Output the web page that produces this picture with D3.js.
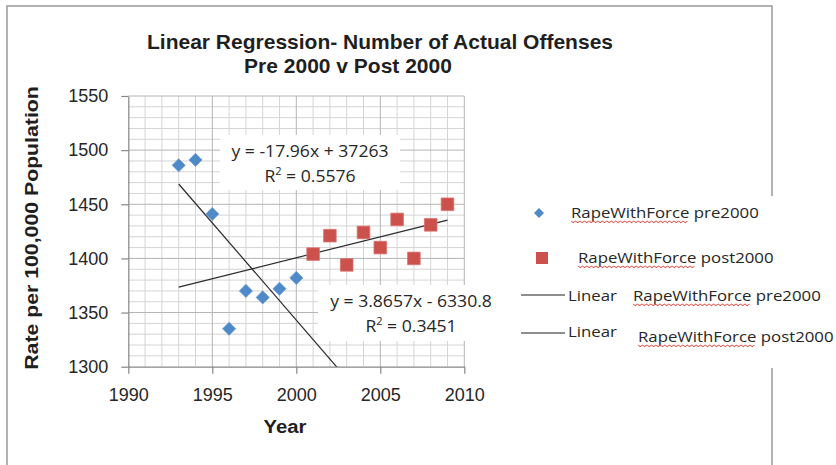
<!DOCTYPE html>
<html>
<head>
<meta charset="utf-8">
<script src="https://cdn.jsdelivr.net/npm/d3@7"></script>
<style>
  html, body { margin: 0; padding: 0; background: #ffffff; }
  svg { display: block; }
</style>
</head>
<body>
<svg id="chart" width="836" height="465"></svg>
<script>
// ---------------- DATA ----------------
const preYears   = [1993, 1994, 1995, 1996, 1997, 1998, 1999, 2000];
const preValues  = [1486, 1491, 1441, 1335, 1370, 1364, 1372, 1382];
const postYears  = [2001, 2002, 2003, 2004, 2005, 2006, 2007, 2008, 2009];
const postValues = [1404, 1421, 1394, 1424, 1410, 1436, 1400, 1431, 1450];

// trendline coefficients [slope, intercept] as printed on the chart
const preFitCoef  = [-17.96, 37263];
const postFitCoef = [3.8657, -6330.8];
// trendline year spans (with Excel forecast)
const preFitRange  = [1993, 2002.5];
const postFitRange = [1993, 2009];

const preEquation  = ["y = -17.96x + 37263", "R² = 0.5576"];
const postEquation = ["y = 3.8657x - 6330.8", "R² = 0.3451"];

const xTicks = [1990, 1995, 2000, 2005, 2010];
const yTicks = [1300, 1350, 1400, 1450, 1500, 1550];
const xMinorStep = 1;
const yMinorStep = 10;

const titleLines = ["Linear Regression- Number of Actual Offenses", "Pre 2000 v Post 2000"];
const xTitle = "Year";
const yTitle = "Rate per 100,000 Population";
const seriesNames = ["RapeWithForce pre2000", "RapeWithForce post2000"];
const trendNames  = ["RapeWithForce pre2000", "RapeWithForce post2000"];

// ---------------- STYLE ----------------
const BLUE = "#4f8ac8", RED = "#cc514c";
const ARIAL = "'Liberation Sans', Arial, sans-serif";
const CAL = "'Open Sans', 'Noto Sans', sans-serif";

const svg = d3.select("#chart");
const x = d3.scaleLinear().domain([1990, 2010]).range([128.3, 464.3]);
const y = d3.scaleLinear().domain([1300, 1550]).range([366.7, 96]);

// outer chart border
svg.append("rect").attr("x", 7).attr("y", 6).attr("width", 765).attr("height", 470)
  .attr("fill", "#fff").attr("stroke", "#9a9a9a").attr("stroke-width", 1.5);

// helper for (horizontally stretched) text
function stretchedText(parent, tx, ty, str, opts) {
  const g = parent.append("g")
    .attr("transform", `translate(${tx},${ty})${opts.rotate ? ` rotate(${opts.rotate})` : ""} scale(${opts.sx || 1},1)`);
  const t = g.append("text").attr("x", 0).attr("y", 0)
    .attr("text-anchor", opts.anchor || "start")
    .attr("font-family", opts.font || ARIAL)
    .attr("font-size", opts.size || 16)
    .attr("font-weight", opts.weight || "normal")
    .attr("fill", opts.fill || "#262626")
    .text(str);
  return { g, t };
}

// ---------------- GRID ----------------
const grid = svg.append("g");
const xMinor = d3.range(1990, 2010 + 0.001, xMinorStep).filter(v => !xTicks.includes(v));
const yMinor = d3.range(1300, 1550 + 0.001, yMinorStep).filter(v => !yTicks.includes(v));
grid.selectAll(".xm").data(xMinor).join("line")
  .attr("x1", d => x(d)).attr("x2", d => x(d)).attr("y1", y(1550)).attr("y2", y(1300))
  .attr("stroke", "#d4d4d4").attr("stroke-width", 1);
grid.selectAll(".ym").data(yMinor).join("line")
  .attr("x1", x(1990)).attr("x2", x(2010)).attr("y1", d => y(d)).attr("y2", d => y(d))
  .attr("stroke", "#d4d4d4").attr("stroke-width", 1);
grid.selectAll(".xM").data(xTicks.slice(1)).join("line")
  .attr("x1", d => x(d)).attr("x2", d => x(d)).attr("y1", y(1550)).attr("y2", y(1300))
  .attr("stroke", "#b4b4b4").attr("stroke-width", 1);
grid.selectAll(".yM").data(yTicks.slice(1)).join("line")
  .attr("x1", x(1990)).attr("x2", x(2010)).attr("y1", d => y(d)).attr("y2", d => y(d))
  .attr("stroke", "#b4b4b4").attr("stroke-width", 1);

// ---------------- AXES ----------------
const xAxis = svg.append("g").attr("transform", `translate(0,${y(1300)})`)
  .call(d3.axisBottom(x).tickValues(xTicks).tickFormat(d3.format("d")).tickSize(7).tickPadding(15).tickSizeOuter(0));
const yAxis = svg.append("g").attr("transform", `translate(${x(1990)},0)`)
  .call(d3.axisLeft(y).tickValues(yTicks).tickFormat(d3.format("d")).tickSize(7).tickPadding(13).tickSizeOuter(0));
[xAxis, yAxis].forEach(a => {
  a.select(".domain").attr("stroke", "#868686").attr("stroke-width", 1.2);
  a.selectAll(".tick line").attr("stroke", "#868686").attr("stroke-width", 1.2);
  a.selectAll(".tick text").attr("font-family", ARIAL).attr("font-size", 18).attr("fill", "#262626");
});

// ---------------- TRENDLINES ----------------
svg.append("clipPath").attr("id", "plotclip").append("rect")
  .attr("x", x(1990)).attr("y", y(1550)).attr("width", x(2010) - x(1990)).attr("height", y(1300) - y(1550));
const line = d3.line().x(d => x(d[0])).y(d => y(d[1]));
const trendG = svg.append("g").attr("clip-path", "url(#plotclip)");
[[preFitCoef, preFitRange], [postFitCoef, postFitRange]].forEach(([c, r]) => {
  trendG.append("path").datum(r.map(v => [v, c[0] * v + c[1]]))
    .attr("d", line).attr("fill", "none").attr("stroke", "#2b2b2b").attr("stroke-width", 1.2);
});

// ---------------- MARKERS ----------------
const diamond = d3.symbol(d3.symbolSquare, 86);
const square = d3.symbol(d3.symbolSquare, 158);
svg.append("g").selectAll("path").data(preYears.map((v, i) => [v, preValues[i]])).join("path")
  .attr("d", diamond).attr("transform", d => `translate(${x(d[0])},${y(d[1])}) rotate(45)`)
  .attr("fill", BLUE).attr("stroke", "#6b9bd4").attr("stroke-width", 0.8);
svg.append("g").selectAll("path").data(postYears.map((v, i) => [v, postValues[i]])).join("path")
  .attr("d", square).attr("transform", d => `translate(${x(d[0])},${y(d[1])})`)
  .attr("fill", RED).attr("stroke", "#d9706c").attr("stroke-width", 0.8);

// ---------------- EQUATION LABELS ----------------
function eqLabel(bx, by, bw, bh, cx, lines) {
  svg.append("rect").attr("x", bx).attr("y", by).attr("width", bw).attr("height", bh).attr("fill", "#fff");
  stretchedText(svg, cx, by + 22, lines[0], { anchor: "middle", font: CAL, size: 16, sx: 1.1, fill: "#262626" });
  const r = stretchedText(svg, cx, by + 47, "", { anchor: "middle", font: CAL, size: 16, sx: 1.1, fill: "#262626" });
  const parts = lines[1].split("²");
  r.t.append("tspan").text(parts[0]);
  r.t.append("tspan").attr("font-size", 10).attr("dy", -7).text("2");
  r.t.append("tspan").attr("dy", 7).text(parts[1]);
}
eqLabel(220, 135, 180, 55, 310, preEquation);
eqLabel(318, 285, 182, 56, 411, postEquation);

// ---------------- TITLES ----------------
stretchedText(svg, 380, 49, titleLines[0], { anchor: "middle", size: 21, weight: "bold", fill: "#1f1f1f" });
stretchedText(svg, 348, 73, titleLines[1], { anchor: "middle", size: 21, weight: "bold", fill: "#1f1f1f" });
stretchedText(svg, 285, 433, xTitle, { anchor: "middle", size: 19, weight: "bold", sx: 1.07, fill: "#1f1f1f" });
stretchedText(svg, 38, 228, yTitle, { anchor: "middle", size: 19, weight: "bold", sx: 1.12, rotate: -90, fill: "#1f1f1f" });

// ---------------- LEGEND ----------------
const leg = svg.append("g");
leg.append("rect").attr("x", 515).attr("y", 196).attr("width", 321).attr("height", 172).attr("fill", "#fff");

function legendLabel(tx, ty, name, sx) {
  const [word, rest] = [name.split(" ")[0], " " + name.split(" ").slice(1).join(" ")];
  const r = stretchedText(leg, tx, ty, "", { font: CAL, size: 15, sx: sx, fill: "#262626" });
  const w1 = r.t.append("tspan").text(word);
  r.t.append("tspan").text(rest);
  const ww = w1.node().getComputedTextLength();
  // spell-check style wavy underline
  const pts = d3.range(0, ww + 0.01, 2).map((v, i) => [v, 3 + (i % 2 ? 1.6 : 0)]);
  r.g.append("path").attr("d", d3.line()(pts)).attr("fill", "none").attr("stroke", "#e0554f").attr("stroke-width", 0.9);
}
leg.append("path").attr("d", d3.symbol(d3.symbolSquare, 50)).attr("transform", "translate(539,213) rotate(45)").attr("fill", BLUE);
legendLabel(571, 218, seriesNames[0], 1.12);
leg.append("path").attr("d", d3.symbol(d3.symbolSquare, 144)).attr("transform", "translate(542,258)").attr("fill", RED);
legendLabel(578, 263, seriesNames[1], 1.12);

[[295, 301, 633, 0], [333, 337, 638, 1]].forEach(([ly, ty, tx, i]) => {
  leg.append("line").attr("x1", 521).attr("x2", 565).attr("y1", ly).attr("y2", ly).attr("stroke", "#1f1f1f").attr("stroke-width", 1.2);
  stretchedText(leg, 568, ty, "Linear", { font: CAL, size: 15, sx: 1.12, fill: "#262626" });
  legendLabel(tx, ty + (i ? 5 : 0), trendNames[i], 1.12);
});
</script>
</body>
</html>
